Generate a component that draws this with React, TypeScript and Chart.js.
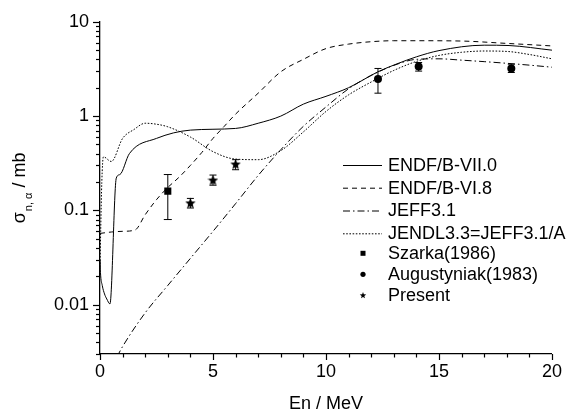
import React, { useEffect, useRef } from 'react';
import { Chart, registerables } from 'chart.js';

Chart.register(...registerables);

// ---------- data ----------
const endf7E = [0, 0.02, 0.1, 0.2, 0.3, 0.44, 0.72, 0.88, 1.3, 2.5, 4.0, 6.0, 7.0, 8.0, 9.0, 10.0, 11.0, 12.3, 13.1, 14.0, 15.0, 17.0, 18.1, 20];
const endf7V = [0.03, 0.022, 0.016, 0.013, 0.0115, 0.0102, 0.22, 0.24, 0.40, 0.58, 0.71, 0.74, 0.84, 1.0, 1.34, 1.62, 2.0, 2.95, 3.55, 4.25, 4.95, 5.65, 5.6, 5.0];

const endf6E = [0, 0.5, 1.0, 1.55, 2.0, 2.5, 3.0, 3.5, 4.0, 4.5, 5.0, 5.5, 6.0, 7.0, 8.0, 9.0, 10.0, 11.0, 12.0, 13.0, 14.0, 16.0, 18.0, 20.0];
const endf6V = [0.057, 0.059, 0.06, 0.062, 0.09, 0.13, 0.175, 0.225, 0.3, 0.41, 0.58, 0.78, 1.05, 1.75, 2.95, 4.0, 5.2, 5.8, 6.15, 6.3, 6.3, 6.25, 5.9, 5.55];

const jeffE = [0.75, 1, 2, 3, 4, 5, 6, 7, 8, 9, 10, 11, 12, 13, 14, 15, 16, 17, 18, 19, 20];
const jeffV = [0.0028, 0.0036, 0.0082, 0.016, 0.031, 0.06, 0.118, 0.235, 0.44, 0.78, 1.25, 1.95, 2.7, 3.45, 4.0, 4.05, 3.92, 3.78, 3.63, 3.47, 3.3];

const jendlE = [0, 0.03, 0.08, 0.15, 0.5, 1.0, 1.5, 2.0, 2.5, 3.0, 4.0, 5.0, 6.0, 7.0, 8.0, 9.0, 10.0, 11.0, 12.0, 13.0, 14.0, 15.0, 16.0, 17.0, 18.0, 19.0, 20.0];
const jendlV = [0.025, 0.06, 0.2, 0.37, 0.33, 0.58, 0.72, 0.84, 0.82, 0.77, 0.6, 0.42, 0.35, 0.345, 0.43, 0.68, 1.12, 1.68, 2.3, 3.05, 3.8, 4.4, 4.75, 4.9, 4.85, 4.5, 4.05];

const szarkaE = [3.0];
const szarkaV = [0.16];
const szarkaLo = [0.08];
const szarkaHi = [0.24];

const augE = [12.3, 14.1, 18.2];
const augV = [2.48, 3.35, 3.2];
const augLo = [1.75, 3.0, 2.9];
const augHi = [3.2, 3.7, 3.55];

const presE = [4, 5, 6];
const presV = [0.12, 0.21, 0.31];
const presLo = [0.106, 0.185, 0.27];
const presHi = [0.134, 0.237, 0.345];

const xTicks = [0, 5, 10, 15, 20];
const yTicks = [0.01, 0.1, 1, 10];

const legendLabels = ['ENDF/B-VII.0', 'ENDF/B-VI.8', 'JEFF3.1', 'JENDL3.3=JEFF3.1/A', 'Szarka(1986)', 'Augustyniak(1983)', 'Present'];

// ---------- helpers ----------
const FONT = '"Liberation Sans", Arial, sans-serif';
const pts = (e: number[], v: number[]) => e.map((x, i) => ({ x, y: v[i] }));

const DASH = [5, 4];
const DASHDOT = [7, 3, 1.5, 3];
const DOT = [1.6, 1.6];

function starPath(ctx: CanvasRenderingContext2D, cx: number, cy: number, ro: number, ri: number) {
  ctx.beginPath();
  for (let i = 0; i < 10; i++) {
    const r = i % 2 === 0 ? ro : ri;
    const a = -Math.PI / 2 + (i * Math.PI) / 5;
    const px = cx + r * Math.cos(a);
    const py = cy + r * Math.sin(a);
    if (i === 0) ctx.moveTo(px, py);
    else ctx.lineTo(px, py);
  }
  ctx.closePath();
}

function makeStar(size: number) {
  const c = document.createElement('canvas');
  c.width = size;
  c.height = size;
  const g = c.getContext('2d')!;
  g.fillStyle = '#000';
  starPath(g, size / 2, size / 2 + 0.5, size / 2, size / 4.6);
  g.fill();
  return c;
}

const decorPlugin = {
  id: 'decor',
  afterDatasetsDraw(chart: any) {
    const ctx: CanvasRenderingContext2D = chart.ctx;
    const xs = chart.scales.x;
    const ys = chart.scales.y;
    ctx.save();
    ctx.strokeStyle = '#000';
    ctx.lineWidth = 1;
    ctx.setLineDash([]);
    const bar = (e: number[], lo: number[], hi: number[], cap: number) => {
      e.forEach((x, i) => {
        const px = xs.getPixelForValue(x);
        const p1 = ys.getPixelForValue(lo[i]);
        const p2 = ys.getPixelForValue(hi[i]);
        ctx.beginPath();
        ctx.moveTo(px, p1);
        ctx.lineTo(px, p2);
        ctx.moveTo(px - cap, p1);
        ctx.lineTo(px + cap, p1);
        ctx.moveTo(px - cap, p2);
        ctx.lineTo(px + cap, p2);
        ctx.stroke();
      });
    };
    bar(szarkaE, szarkaLo, szarkaHi, 4);
    bar(augE, augLo, augHi, 3.5);
    bar(presE, presLo, presHi, 3.5);
    ctx.restore();
  },
  afterDraw(chart: any) {
    const ctx: CanvasRenderingContext2D = chart.ctx;
    const xs = chart.scales.x;
    const ys = chart.scales.y;
    const { left, bottom, right, top } = chart.chartArea;
    ctx.save();
    ctx.strokeStyle = '#000';
    ctx.lineWidth = 1.2;
    ctx.setLineDash([]);
    // y ticks (major + minor)
    for (let p = -3; p <= 1; p++) {
      for (let m = 1; m <= 9; m++) {
        const v = m * Math.pow(10, p);
        if (v < 0.00299 || v > 10.0001) continue;
        const py = Math.round(ys.getPixelForValue(v)) + 0.5;
        const len = m === 1 ? 7 : 4;
        ctx.beginPath();
        ctx.moveTo(left - len, py);
        ctx.lineTo(left, py);
        ctx.stroke();
      }
    }
    // x ticks
    for (let e = 0; e <= 20; e++) {
      const px = Math.round(xs.getPixelForValue(e)) + 0.5;
      const len = e % 5 === 0 ? 6 : 3.5;
      ctx.beginPath();
      ctx.moveTo(px, bottom);
      ctx.lineTo(px, bottom + len);
      ctx.stroke();
    }

    // x title
    ctx.fillStyle = '#000';
    ctx.font = `18px ${FONT}`;
    ctx.textAlign = 'center';
    ctx.textBaseline = 'alphabetic';
    ctx.fillText('En / MeV', (left + right) / 2, 409);

    // y title with subscript
    ctx.save();
    ctx.translate(25, (top + bottom) / 2);
    ctx.rotate(-Math.PI / 2);
    ctx.textAlign = 'left';
    const big = `18px ${FONT}`;
    const small = `11px ${FONT}`;
    ctx.font = big;
    const w1 = ctx.measureText('σ').width;
    const w3 = ctx.measureText(' / mb').width;
    ctx.font = small;
    const w2 = ctx.measureText('n, α').width;
    const total = w1 + 1 + w2 + w3;
    let x0 = -total / 2;
    ctx.font = big;
    ctx.fillText('σ', x0, 0);
    x0 += w1 + 1;
    ctx.font = small;
    ctx.fillText('n, α', x0, 7);
    x0 += w2;
    ctx.font = big;
    ctx.fillText(' / mb', x0, 0);
    ctx.restore();

    // legend
    const lx0 = 343;
    const lx1 = 382;
    const tx = 388;
    const mx = 363;
    const ly = [165, 187.7, 210.5, 233.3, 253.3, 274.3, 295];
    const dashes = [[], DASH, DASHDOT, DOT];
    ctx.font = `18px ${FONT}`;
    ctx.textAlign = 'left';
    ctx.textBaseline = 'middle';
    legendLabels.forEach((lab, i) => {
      const y = ly[i];
      ctx.strokeStyle = '#000';
      ctx.fillStyle = '#000';
      if (i < 4) {
        ctx.lineWidth = 1;
        ctx.setLineDash(dashes[i]);
        ctx.beginPath();
        ctx.moveTo(lx0, y + 0.5);
        ctx.lineTo(lx1, y + 0.5);
        ctx.stroke();
        ctx.setLineDash([]);
      } else if (i === 4) {
        ctx.fillRect(mx - 2.5, y - 2.5, 5, 5);
      } else if (i === 5) {
        ctx.beginPath();
        ctx.arc(mx, y, 2.6, 0, Math.PI * 2);
        ctx.fill();
      } else {
        starPath(ctx, mx, y + 0.5, 3.4, 1.4);
        ctx.fill();
      }
      ctx.fillText(lab, tx, y + 1);
    });
    ctx.restore();
  },
};

export default function App() {
  const ref = useRef<HTMLCanvasElement | null>(null);
  useEffect(() => {
    if (!ref.current) return;
    const star = makeStar(11);
    const lineDs = (label: string, e: number[], v: number[], dash: number[]) => ({
      type: 'line' as const,
      label,
      data: pts(e, v),
      borderColor: '#000',
      borderWidth: 1,
      borderDash: dash,
      pointRadius: 0,
      fill: false,
      cubicInterpolationMode: 'monotone' as const,
    });
    const scatDs = (label: string, e: number[], v: number[], style: any, r: number) => ({
      type: 'scatter' as const,
      label,
      data: pts(e, v),
      pointStyle: style,
      pointRadius: r,
      backgroundColor: '#000',
      borderColor: '#000',
      borderWidth: 0,
      showLine: false,
    });
    const chart = new Chart(ref.current, {
      type: 'line',
      data: {
        datasets: [
          scatDs('Szarka(1986)', szarkaE, szarkaV, 'rect', 5),
          scatDs('Augustyniak(1983)', augE, augV, 'circle', 4),
          scatDs('Present', presE, presV, star, 5.5),
          lineDs('ENDF/B-VII.0', endf7E, endf7V, []),
          lineDs('ENDF/B-VI.8', endf6E, endf6V, DASH),
          lineDs('JEFF3.1', jeffE, jeffV, DASHDOT),
          lineDs('JENDL3.3=JEFF3.1/A', jendlE, jendlV, DOT),
        ] as any,
      },
      options: {
        responsive: false,
        devicePixelRatio: 1,
        animation: false,
        layout: { padding: { top: 20, right: 13, left: 0, bottom: 0 } },
        plugins: { legend: { display: false }, tooltip: { enabled: false } },
        scales: {
          x: {
            type: 'linear',
            min: 0,
            max: 20,
            afterFit: (s: any) => {
              s.height = 60;
            },
            afterBuildTicks: (s: any) => {
              s.ticks = xTicks.map((value) => ({ value }));
            },
            ticks: {
              color: '#000',
              font: { family: FONT, size: 18 },
              padding: 7,
              maxRotation: 0,
              autoSkip: false,
            },
            grid: { display: true, drawOnChartArea: false, drawTicks: false },
            border: { display: true, color: '#000', width: 1.3 },
          },
          y: {
            type: 'logarithmic',
            min: 0.003,
            max: 10,
            afterFit: (s: any) => {
              s.width = 100;
            },
            afterBuildTicks: (s: any) => {
              s.ticks = yTicks.map((value) => ({ value }));
            },
            ticks: {
              color: '#000',
              font: { family: FONT, size: 18 },
              padding: 11,
              autoSkip: false,
              callback: (v: any) => String(v),
            },
            grid: { display: true, drawOnChartArea: false, drawTicks: false },
            border: { display: true, color: '#000', width: 1.3 },
          },
        },
      },
      plugins: [decorPlugin],
    });
    return () => chart.destroy();
  }, []);
  return (
    <div style={{ position: 'fixed', left: 0, top: 0, width: 569, height: 414, background: '#fff' }}>
      <canvas ref={ref} width={569} height={414} style={{ display: 'block' }} />
    </div>
  );
}
